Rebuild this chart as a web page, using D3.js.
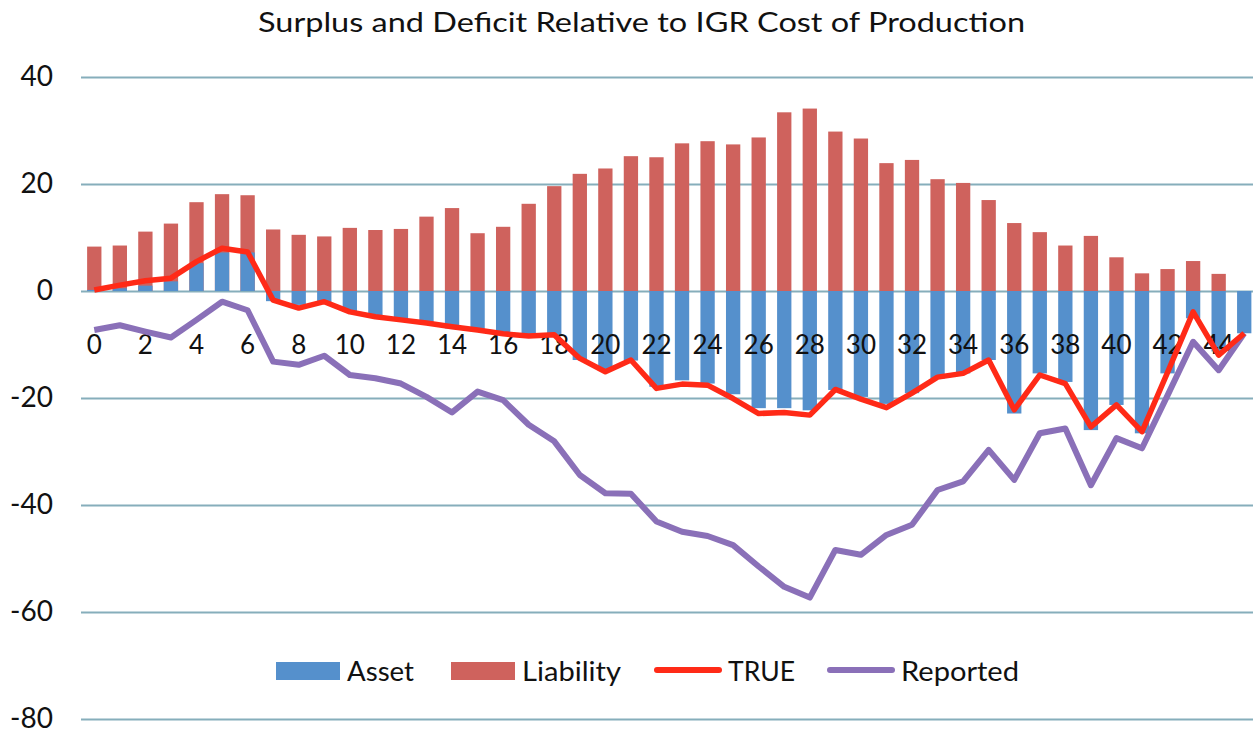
<!DOCTYPE html>
<html>
<head>
<meta charset="utf-8">
<title>Surplus and Deficit</title>
<script src="https://d3js.org/d3.v7.min.js"></script>
<style>
  body { margin: 0; background: #fff; }
  svg { display: block; font-family: Lato, "Open Sans", sans-serif; }
</style>
</head>
<body>
<div id="chart"></div>
<script>
// data
var periods = d3.range(0, 46);
var asset = [0.2, 0.5, 1.0, 1.8, 5.2, 7.2, 7.2, -1.9, -2.6, -2.2, -3.9, -4.6, -5.2, -5.8, -7.0, -7.6,
  -7.9, -8.3, -8.4, -12.9, -14.8, -13.0, -17.9, -16.7, -17.3, -19.3, -21.9, -21.9, -22.3, -18.5, -19.8,
  -21.1, -19.1, -16.4, -15.4, -12.9, -22.9, -15.4, -17.0, -26.0, -21.3, -26.6, -15.4, -5.1, -11.3, -7.9];
var liability = [8.3, 8.5, 11.1, 12.6, 16.6, 18.1, 17.9, 11.5, 10.5, 10.2, 11.8, 11.4, 11.6, 13.9, 15.5, 10.8,
  12.0, 16.3, 19.6, 21.9, 22.9, 25.2, 25.0, 27.6, 28.0, 27.4, 28.7, 33.4, 34.1, 29.8, 28.5,
  23.9, 24.5, 20.9, 20.2, 17.0, 12.7, 11.0, 8.5, 10.3, 6.3, 3.3, 4.1, 5.6, 3.2, 0];
var trueVals = [0.2, 1.1, 1.9, 2.4, 5.5, 8.0, 7.3, -1.7, -3.2, -2.0, -3.9, -4.8, -5.4, -6.0, -6.7, -7.3,
  -8.0, -8.4, -8.2, -12.6, -15.1, -12.9, -18.2, -17.4, -17.6, -20.1, -22.9, -22.7, -23.2, -18.4, -20.2,
  -21.8, -19.1, -16.1, -15.4, -12.9, -22.2, -15.7, -17.3, -25.4, -21.3, -26.3, -15.2, -3.9, -12.0, -7.9];
var reported = [-7.3, -6.4, -7.6, -8.7, -5.4, -2.0, -3.6, -13.2, -13.8, -12.1, -15.7, -16.3, -17.3, -19.8, -22.7, -18.8,
  -20.4, -25.0, -28.1, -34.4, -37.8, -37.9, -43.1, -45.0, -45.8, -47.5, -51.5, -55.3, -57.3, -48.4, -49.3,
  -45.6, -43.7, -37.2, -35.6, -29.7, -35.3, -26.6, -25.7, -36.3, -27.5, -29.4, -19.5, -9.5, -14.8, -7.9];
var yTicks = [-80, -60, -40, -20, 0, 20, 40];

var width = 1253, height = 742;

var svg = d3.select("#chart").append("svg")
  .attr("width", width)
  .attr("height", height);

svg.append("rect").attr("width", width).attr("height", height).attr("fill", "#fff");

var x = d3.scaleBand()
  .domain(periods)
  .range([81.5, 1257])
  .paddingInner(0.44)
  .paddingOuter(0.22);

var y = d3.scaleLinear()
  .domain([-80, 40])
  .range([719, 77]);

// title
svg.append("text")
  .attr("x", 258)
  .attr("y", 32)
  .attr("textLength", 767)
  .attr("lengthAdjust", "spacingAndGlyphs")
  .style("font-size", "27px")
  .attr("fill", "#111")
  .text("Surplus and Deficit Relative to IGR Cost of Production");

// gridlines
var yAxis = d3.axisLeft(y)
  .tickValues(yTicks)
  .tickSize(-(1257 - 81))
  .tickPadding(28)
  .tickFormat(function(d) { return String(d); });
var gy = svg.append("g")
  .attr("transform", "translate(81,0)")
  .call(yAxis);
gy.select(".domain").remove();
gy.selectAll(".tick line").attr("stroke", "#86aebb").attr("stroke-width", 2);
gy.selectAll(".tick text")
  .style("font-size", "28px")
  .style("font-family", "Lato, sans-serif")
  .attr("fill", "#111");

var c = x.bandwidth() / 2;

// liability bars
svg.append("g").selectAll("rect")
  .data(periods)
  .enter()
  .append("rect")
  .attr("x", function(d) { return x(d); })
  .attr("width", x.bandwidth())
  .attr("y", function(d) { return y(Math.max(0, liability[d])); })
  .attr("height", function(d) { return Math.abs(y(liability[d]) - y(0)); })
  .attr("fill", "#cf625d");

// asset bars
svg.append("g").selectAll("rect")
  .data(periods)
  .enter()
  .append("rect")
  .attr("x", function(d) { return x(d); })
  .attr("width", x.bandwidth())
  .attr("y", function(d) { return y(Math.max(0, asset[d])); })
  .attr("height", function(d) { return Math.abs(y(asset[d]) - y(0)); })
  .attr("fill", "#5590cc");

// category labels (every second one)
svg.append("g").selectAll("text")
  .data(periods.filter(function(d) { return d % 2 == 0; }))
  .enter()
  .append("text")
  .attr("x", function(d) { return x(d) + c; })
  .attr("y", 354)
  .attr("text-anchor", "middle")
  .style("font-size", "26px")
  .attr("fill", "#111")
  .text(function(d) { return d; });

// lines
function drawLine(vals, colour, w) {
  var line = d3.line()
    .x(function(d, i) { return x(periods[i]) + c; })
    .y(function(d) { return y(d); });
  svg.append("path")
    .datum(vals)
    .attr("d", line)
    .attr("fill", "none")
    .attr("stroke", colour)
    .attr("stroke-width", w)
    .attr("stroke-linejoin", "round");
}
drawLine(reported, "#8a70b8", 6);
drawLine(trueVals, "#ff2a17", 5.5);

// legend
var legend = svg.append("g").attr("transform", "translate(0,671)");
var items = [
  {name: "Asset", type: "box", colour: "#5590cc", x: 276, w: 67},
  {name: "Liability", type: "box", colour: "#cf625d", x: 451, w: 99},
  {name: "TRUE", type: "line", colour: "#ff2a17", x: 655, w: 67},
  {name: "Reported", type: "line", colour: "#8a70b8", x: 828, w: 118}
];
items.forEach(function(it) {
  if (it.type == "box") {
    legend.append("rect").attr("x", it.x).attr("y", -9).attr("width", 64).attr("height", 18).attr("fill", it.colour);
  } else {
    legend.append("line").attr("x1", it.x + 2).attr("x2", it.x + 64).attr("y1", -1).attr("y2", -1)
      .attr("stroke", it.colour).attr("stroke-width", 6).attr("stroke-linecap", "round");
  }
  legend.append("text")
    .attr("x", it.x + (it.type == "box" ? 71 : 73))
    .attr("y", 10)
    .attr("textLength", it.w)
    .attr("lengthAdjust", "spacingAndGlyphs")
    .style("font-size", "27px")
    .attr("fill", "#111")
    .text(it.name);
});
</script>
</body>
</html>
